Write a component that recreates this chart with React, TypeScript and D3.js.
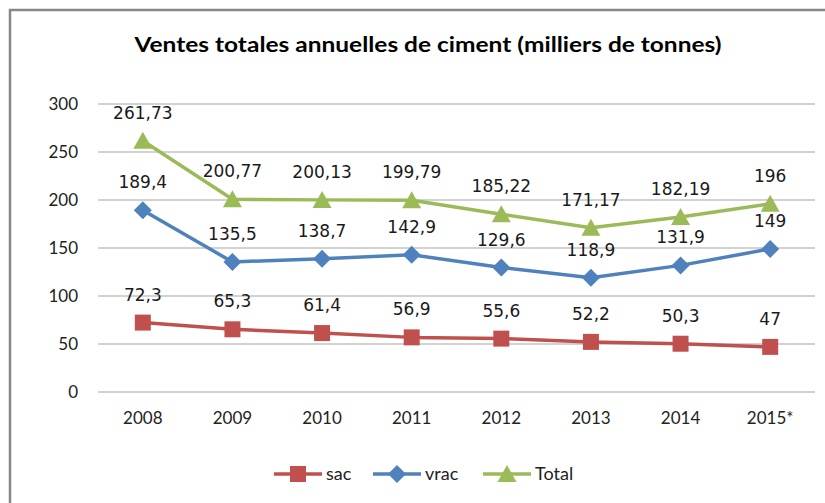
import React, { useEffect, useRef } from "react";
import * as d3 from "d3";

const years = ["2008", "2009", "2010", "2011", "2012", "2013", "2014", "2015*"];
const sac = [72.3, 65.3, 61.4, 56.9, 55.6, 52.2, 50.3, 47];
const vrac = [189.4, 135.5, 138.7, 142.9, 129.6, 118.9, 131.9, 149];
const total = [261.73, 200.77, 200.13, 199.79, 185.22, 171.17, 182.19, 196];
const yTicks = [0, 50, 100, 150, 200, 250, 300];

const series = [
  { name: "sac", values: sac, color: "#C0504D", marker: "square" },
  { name: "vrac", values: vrac, color: "#4F81BD", marker: "diamond" },
  { name: "Total", values: total, color: "#9BBB59", marker: "triangle" },
];

const markerPath = (type: string) => {
  if (type === "square") return "M-8,-8H8V8H-8Z";
  if (type === "diamond") return "M0,-9L9,0L0,9L-9,0Z";
  return "M0,-9L9.5,8L-9.5,8Z";
};

const fmt = (v: number) => String(v).replace(".", ",");

const App = () => {
  const svgRef = useRef<SVGSVGElement>(null);

  useEffect(() => {
    const svg = d3.select(svgRef.current);
    svg.selectAll("*").remove();

    const width = 825;
    const height = 503;

    // chart frame (right and bottom edges fall outside the picture)
    svg
      .append("rect")
      .attr("x", 10)
      .attr("y", 10)
      .attr("width", 900)
      .attr("height", 600)
      .attr("fill", "#fff")
      .attr("stroke", "#878787")
      .attr("stroke-width", 2.5);

    svg
      .append("text")
      .attr("x", 428)
      .attr("y", 52)
      .attr("text-anchor", "middle")
      .attr("font-family", "Lato")
      .attr("font-weight", "bold")
      .attr("font-size", 20)
      .attr("textLength", 587)
      .attr("lengthAdjust", "spacingAndGlyphs")
      .attr("fill", "#000")
      .text("Ventes totales annuelles de ciment (milliers de tonnes)");

    const x = d3.scaleBand().domain(years).range([98, 815]);
    const y = d3.scaleLinear().domain([0, 300]).range([392, 104]);
    const cx = (i: number) => (x(years[i]) as number) + x.bandwidth() / 2;

    // gridlines
    svg
      .append("g")
      .selectAll("line")
      .data(yTicks)
      .enter()
      .append("line")
      .attr("x1", 98)
      .attr("x2", 815)
      .attr("y1", (d) => y(d))
      .attr("y2", (d) => y(d))
      .attr("stroke", "#a6a6a6")
      .attr("stroke-width", 1.2);

    svg
      .append("g")
      .selectAll("text")
      .data(yTicks)
      .enter()
      .append("text")
      .attr("x", 78)
      .attr("y", (d) => y(d))
      .attr("dy", "0.35em")
      .attr("text-anchor", "end")
      .attr("font-family", "Lato")
      .attr("font-size", 17)
      .attr("fill", "#222")
      .text((d) => d);

    svg
      .append("g")
      .selectAll("text")
      .data(years)
      .enter()
      .append("text")
      .attr("x", (d, i) => cx(i))
      .attr("y", 418)
      .attr("dy", "0.35em")
      .attr("text-anchor", "middle")
      .attr("font-family", "Lato")
      .attr("font-size", 17)
      .attr("fill", "#222")
      .text((d) => d);

    const line = d3
      .line<number>()
      .x((d, i) => cx(i))
      .y((d) => y(d));

    series.forEach((s) => {
      const g = svg.append("g");
      g.append("path")
        .attr("d", line(s.values))
        .attr("fill", "none")
        .attr("stroke", s.color)
        .attr("stroke-width", 3.5)
        .attr("stroke-linejoin", "round");
      g.selectAll("path.m")
        .data(s.values)
        .enter()
        .append("path")
        .attr("class", "m")
        .attr("d", markerPath(s.marker))
        .attr("transform", (d, i) => `translate(${cx(i)},${y(d)})`)
        .attr("fill", s.color);
    });

    series.forEach((s) => {
      svg
        .append("g")
        .selectAll("text")
        .data(s.values)
        .enter()
        .append("text")
        .attr("x", (d, i) => cx(i))
        .attr("y", (d) => y(d) - 28)
        .attr("dy", "0.36em")
        .attr("text-anchor", "middle")
        .attr("font-family", "DejaVu Sans")
        .attr("font-size", 17)
        .attr("fill", "#1a1a1a")
        .text((d) => fmt(d));
    });

    // legend
    const legendX = [274, 373, 483];
    const ly = 474;
    series.forEach((s, i) => {
      const g = svg.append("g").attr("transform", `translate(${legendX[i]},${ly})`);
      g.append("line")
        .attr("x1", 0)
        .attr("x2", 48)
        .attr("stroke", s.color)
        .attr("stroke-width", 3.5);
      g.append("path")
        .attr("d", markerPath(s.marker))
        .attr("transform", "translate(24,0)")
        .attr("fill", s.color);
      g.append("text")
        .attr("x", 52)
        .attr("dy", "0.35em")
        .attr("font-family", "Lato")
        .attr("font-size", 18)
        .attr("fill", "#222")
        .text(s.name);
    });

    svg.attr("width", width).attr("height", height);
  }, []);

  return (
    <div style={{ position: "absolute", left: 0, top: 0 }}>
      <svg ref={svgRef} width="825" height="503" style={{ display: "block" }}></svg>
    </div>
  );
};

export default App;
